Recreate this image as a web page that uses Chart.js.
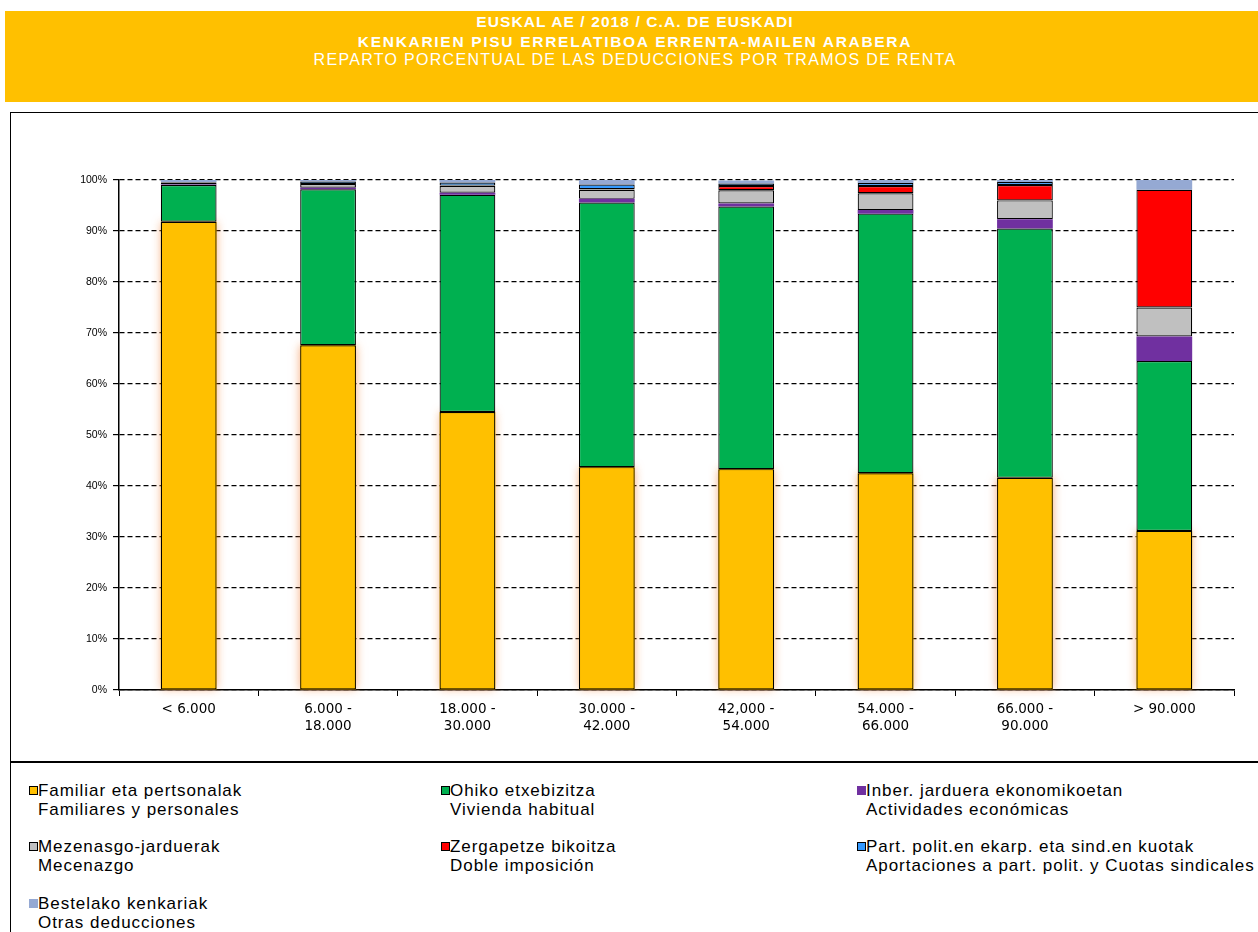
<!DOCTYPE html>
<html>
<head>
<meta charset="utf-8">
<script src="https://cdn.jsdelivr.net/npm/chart.js@4.4.1/dist/chart.umd.min.js"></script>
<style>
  body { margin: 0; background: #fff; width: 1258px; height: 932px; overflow: hidden; position: relative;
         font-family: "Liberation Sans", Arial, sans-serif; }
  #header { position: absolute; left: 5px; top: 11px; width: 1260px; height: 91px; background: #FFC000; color: #fff; }
  #header div { position: absolute; left: 0; width: 100%; text-align: center; white-space: nowrap; }
  #h1 { top: 2px; font-size: 15.5px; font-weight: bold; letter-spacing: 1.1px; line-height: 18px; }
  #h2 { top: 22px; font-size: 15.5px; font-weight: bold; letter-spacing: 1.7px; line-height: 18px; }
  #h3 { top: 40px; font-size: 16px; letter-spacing: 1.3px; line-height: 18px; }
  #frame { position: absolute; left: 10px; top: 112px; width: 1280px; height: 860px; border: 1.5px solid #000; }
  #sep { position: absolute; left: 10px; top: 761px; width: 1280px; border-top: 2px solid #000; }
  #wrap { position: absolute; left: 12px; top: 114px; width: 1246px; height: 647px; }
  .item { position: absolute; font-size: 17px; letter-spacing: 0.95px; line-height: 19px; color: #000; white-space: nowrap; }
  .sw { position: absolute; width: 9px; height: 9px; box-sizing: border-box; }
</style>
</head>
<body>
<div id="header">
  <div id="h1">EUSKAL AE / 2018 / C.A. DE EUSKADI</div>
  <div id="h2">KENKARIEN PISU ERRELATIBOA ERRENTA-MAILEN ARABERA</div>
  <div id="h3">REPARTO PORCENTUAL DE LAS DEDUCCIONES POR TRAMOS DE RENTA</div>
</div>
<div id="frame"></div>
<div id="sep"></div>
<div id="wrap"><canvas id="chart"></canvas></div>
<div id="legend"></div>
<script>
// ---------- Data ----------
const categories = [
  "< 6.000",
  ["6.000 -", "18.000"],
  ["18.000 -", "30.000"],
  ["30.000 -", "42.000"],
  ["42,000 -", "54.000"],
  ["54.000 -", "66.000"],
  ["66.000 -", "90.000"],
  "> 90.000"
];

const familiar   = [91.8, 67.6, 54.5, 43.7, 43.3, 42.5, 41.6, 31.2];
const vivienda   = [7.2, 30.6, 42.6, 51.9, 51.5, 50.9, 48.9, 33.3];
const actividad  = [0.1, 0.3, 0.4, 0.7, 0.6, 0.7, 1.8, 4.8];
const mecenazgo  = [0.4, 0.7, 1.3, 1.8, 2.6, 3.3, 3.7, 5.7];
const doble      = [0.0, 0.0, 0.1, 0.1, 0.8, 1.4, 3.0, 23.1];
const cuotas     = [0.1, 0.5, 0.6, 0.9, 0.5, 0.6, 0.6, 0.0];
const otras      = [0.4, 0.3, 0.5, 0.9, 0.6, 0.6, 0.4, 1.9];

const yTicks = [0, 10, 20, 30, 40, 50, 60, 70, 80, 90, 100];

const seriesEu = [
  "Familiar eta pertsonalak", "Ohiko etxebizitza", "Inber. jarduera ekonomikoetan",
  "Mezenasgo-jarduerak", "Zergapetze bikoitza", "Part. polit.en ekarp. eta sind.en kuotak",
  "Bestelako kenkariak"
];
const seriesEs = [
  "Familiares y personales", "Vivienda habitual", "Actividades económicas",
  "Mecenazgo", "Doble imposición", "Aportaciones a part. polit. y Cuotas sindicales",
  "Otras deducciones"
];
const seriesData = [familiar, vivienda, actividad, mecenazgo, doble, cuotas, otras];
const colors = ["#FFC000", "#00B050", "#7030A0", "#C0C0C0", "#FF0000", "#3399FF", "#95A9D3"];
const bordered = [true, true, false, true, true, true, false];

// ---------- Chart ----------
const datasets = seriesData.map((d, i) => ({
  label: seriesEu[i],
  data: d,
  backgroundColor: colors[i],
  borderColor: bordered[i] ? "#000" : colors[i],
  borderWidth: bordered[i] ? 1.2 : 0,
  borderSkipped: false,
  barPercentage: 0.4,
  categoryPercentage: 1
}));

// soft orange glow behind the yellow segments (bar element clips its own shadow)
const glow = {
  id: "glow",
  beforeDatasetsDraw(chart) {
    const ctx = chart.ctx;
    const meta = chart.getDatasetMeta(0);
    ctx.save();
    ctx.shadowColor = "rgba(240, 120, 40, 0.6)";
    ctx.shadowBlur = 9;
    ctx.fillStyle = colors[0];
    meta.data.forEach((bar) => {
      const { x, y, base, width } = bar.getProps(["x", "y", "base", "width"], true);
      ctx.fillRect(x - width / 2, y, width, base - y);
    });
    ctx.restore();
  }
};

new Chart(document.getElementById("chart"), {
  type: "bar",
  data: { labels: categories, datasets },
  plugins: [glow],
  options: {
    responsive: true,
    maintainAspectRatio: false,
    animation: false,
    layout: { padding: { top: 66, right: 24, left: 0, bottom: 0 } },
    plugins: { legend: { display: false }, tooltip: { enabled: false } },
    scales: {
      x: {
        stacked: true,
        afterFit: (s) => { s.height = 71; },
        grid: { drawOnChartArea: false, drawTicks: true, tickLength: 6, color: "#000", offset: true },
        border: { color: "#000", width: 1.5 },
        ticks: { color: "#000", padding: 5, maxRotation: 0,
                 font: { family: "DejaVu Sans", size: 13.5, lineHeight: 1.25 } }
      },
      y: {
        stacked: true,
        min: 0,
        max: 100,
        afterFit: (s) => { s.width = 107; },
        afterBuildTicks: (s) => { s.ticks = yTicks.map((v) => ({ value: v })); },
        grid: { color: "#000", lineWidth: 1.2, tickLength: 6, tickBorderDash: [] },
        border: { color: "#000", width: 1.5, dash: [5, 3] },
        ticks: { color: "#000", padding: 6, callback: (v) => v + "%",
                 font: { family: "Liberation Sans", size: 10.5 } }
      }
    }
  }
});

// ---------- Legend ----------
const legendX = [29, 441, 857];
const legendY = [781, 837, 894];
const legendEl = document.getElementById("legend");
seriesEu.forEach((name, i) => {
  const x = legendX[i % 3];
  const y = legendY[Math.floor(i / 3)];
  const sw = document.createElement("div");
  sw.className = "sw";
  sw.style.left = x + "px";
  sw.style.top = (y + 5) + "px";
  sw.style.background = colors[i];
  if (bordered[i]) sw.style.border = "1.5px solid #000";
  legendEl.appendChild(sw);
  const it = document.createElement("div");
  it.className = "item";
  it.style.left = (x + 9) + "px";
  it.style.top = y + "px";
  it.innerHTML = name + "<br>" + seriesEs[i];
  legendEl.appendChild(it);
});
</script>
</body>
</html>
